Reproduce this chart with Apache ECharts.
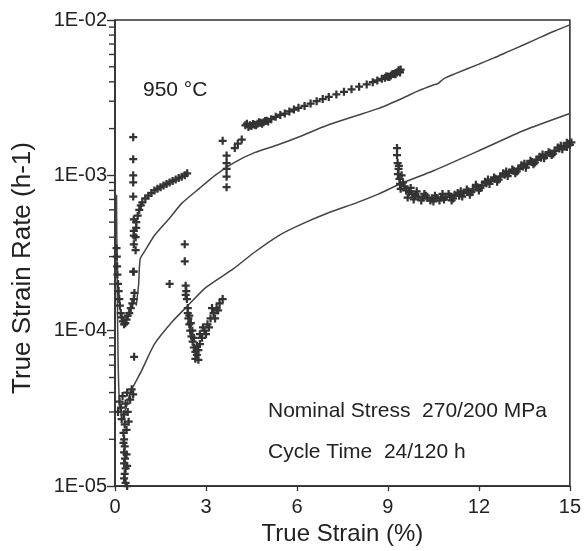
<!DOCTYPE html>
<html>
<head>
<meta charset="utf-8">
<script src="https://cdn.jsdelivr.net/npm/echarts@6/dist/echarts.min.js"></script>
<style>
  html, body { margin: 0; padding: 0; background: #ffffff; }
  #chart { width: 584px; height: 551px; }
</style>
</head>
<body>
<div id="chart"></div>
<script>
// Axis ticks
const strainTicks = [0, 3, 6, 9, 12, 15];
const rateTicks = [1e-5, 1e-4, 1e-3, 1e-2];
const rateTickLabels = ['1E-05', '1E-04', '1E-03', '1E-02'];
const minorRateTicks = [
  2e-5, 3e-5, 4e-5, 5e-5, 6e-5, 7e-5, 8e-5, 9e-5,
  2e-4, 3e-4, 4e-4, 5e-4, 6e-4, 7e-4, 8e-4, 9e-4,
  2e-3, 3e-3, 4e-3, 5e-3, 6e-3, 7e-3, 8e-3, 9e-3
];

// Calculated strain-rate curves: [true strain %, rate 1/h]
const calcUpper = [
  [0.70, 1.45e-4], [0.78, 2.0e-4], [0.83, 2.9e-4], [1.0, 3.3e-4], [1.3, 4.1e-4],
  [1.8, 5.3e-4], [2.2, 6.6e-4], [2.8, 8.3e-4], [3.3, 1.0e-3], [3.9, 1.2e-3],
  [4.6, 1.4e-3], [5.4, 1.58e-3], [6.1, 1.78e-3], [7.0, 2.1e-3], [7.9, 2.4e-3],
  [8.7, 2.7e-3], [9.5, 3.15e-3], [10.0, 3.5e-3], [10.5, 3.82e-3], [10.65, 3.9e-3],
  [10.85, 4.2e-3], [11.2, 4.5e-3], [12.0, 5.2e-3], [12.5, 5.7e-3], [13.0, 6.3e-3],
  [13.5, 6.95e-3], [14.0, 7.7e-3], [14.5, 8.5e-3], [15.0, 9.3e-3]
];
const calcLower = [
  [0.05, 7.5e-4], [0.06, 4.0e-4], [0.08, 1.5e-4], [0.10, 7.0e-5], [0.13, 4.0e-5],
  [0.18, 3.0e-5], [0.30, 3.0e-5], [0.39, 3.3e-5], [0.50, 4.0e-5], [0.66, 4.6e-5],
  [0.89, 5.6e-5], [1.3, 8.2e-5], [1.9, 1.15e-4], [2.4, 1.45e-4], [3.0, 1.9e-4],
  [3.9, 2.5e-4], [4.6, 3.2e-4], [5.4, 4.1e-4], [6.1, 4.8e-4], [7.0, 5.7e-4],
  [8.0, 6.7e-4], [8.7, 7.6e-4], [9.4, 8.8e-4], [10.5, 1.07e-3], [12.0, 1.44e-3],
  [13.5, 1.95e-3], [15.0, 2.5e-3]
];

// Measured strain rates, one array per loading step
const measStep1 = [
  [0.10, 3.0e-5], [0.15, 3.5e-5], [0.20, 3.2e-5], [0.22, 2.7e-5], [0.25, 3.8e-5],
  [0.30, 2.9e-5], [0.32, 2.5e-5], [0.35, 3.4e-5], [0.40, 4.0e-5], [0.42, 3.0e-5],
  [0.45, 2.6e-5], [0.50, 3.6e-5], [0.55, 4.2e-5], [0.60, 3.9e-5], [0.28, 2.2e-5],
  [0.30, 2.0e-5], [0.32, 1.8e-5], [0.30, 1.65e-5], [0.33, 1.5e-5], [0.30, 1.4e-5],
  [0.35, 1.3e-5], [0.32, 1.2e-5], [0.30, 1.12e-5], [0.35, 1.05e-5], [0.40, 1.0e-5],
  [0.38, 1.6e-5], [0.40, 1.35e-5], [0.28, 1.9e-5], [0.38, 2.3e-5]
];
const measStep2 = [
  [0.05, 3.4e-4], [0.06, 3.0e-4], [0.07, 2.6e-4], [0.08, 2.3e-4], [0.10, 2.0e-4],
  [0.12, 1.8e-4], [0.14, 1.6e-4], [0.16, 1.45e-4], [0.19, 1.3e-4], [0.22, 1.22e-4],
  [0.26, 1.15e-4], [0.30, 1.1e-4], [0.34, 1.12e-4], [0.38, 1.18e-4], [0.42, 1.25e-4],
  [0.47, 1.3e-4], [0.52, 1.4e-4], [0.57, 1.5e-4], [0.62, 1.6e-4], [0.64, 1.75e-4],
  [0.60, 2.4e-4], [0.63, 6.8e-5], [1.80, 2.0e-4]
];
const measStep3 = [
  [0.60, 1.76e-3], [0.60, 1.27e-3], [0.60, 1.0e-3], [0.60, 9.0e-4], [0.60, 7.3e-4],
  [0.62, 5.2e-4], [0.62, 4.4e-4], [0.62, 4.1e-4], [0.62, 3.6e-4], [0.62, 2.4e-4],
  [0.68, 4.0e-4], [0.70, 4.6e-4], [0.68, 3.3e-4],
  [0.70, 5.0e-4], [0.75, 5.5e-4], [0.80, 6.0e-4], [0.85, 6.4e-4], [0.90, 6.7e-4],
  [1.0, 7.1e-4], [1.1, 7.4e-4], [1.2, 7.7e-4], [1.3, 8.0e-4], [1.4, 8.2e-4],
  [1.5, 8.4e-4], [1.6, 8.6e-4], [1.7, 8.8e-4], [1.8, 9.0e-4], [1.9, 9.2e-4],
  [2.0, 9.4e-4], [2.1, 9.6e-4], [2.2, 9.8e-4], [2.3, 1.0e-3], [2.38, 1.03e-3]
];
const measStep4 = [
  [2.30, 3.6e-4], [2.30, 2.8e-4], [2.33, 1.95e-4], [2.35, 1.8e-4], [2.33, 1.7e-4],
  [2.37, 1.6e-4], [2.40, 1.3e-4], [2.42, 1.2e-4], [2.45, 1.1e-4], [2.48, 1.0e-4],
  [2.52, 9.2e-5], [2.56, 8.5e-5], [2.60, 7.8e-5], [2.65, 7.3e-5], [2.70, 7.0e-5],
  [2.75, 7.5e-5], [2.80, 8.2e-5], [2.87, 9.0e-5], [2.95, 1.0e-4], [3.05, 1.1e-4],
  [3.15, 1.2e-4], [3.25, 1.3e-4], [3.35, 1.4e-4], [3.45, 1.5e-4], [3.55, 1.6e-4],
  [2.45, 1.25e-4], [2.55, 1.0e-4], [2.60, 9.0e-5], [2.70, 8.0e-5], [2.75, 6.5e-5],
  [2.80, 9.5e-5], [2.90, 1.05e-4], [3.00, 9.5e-5], [3.10, 1.05e-4], [3.20, 1.4e-4],
  [3.30, 1.2e-4], [3.40, 1.35e-4], [2.65, 6.6e-5], [2.50, 1.12e-4], [2.40, 1.4e-4]
];
const measStep5 = [
  [3.55, 1.67e-3], [3.68, 1.34e-3], [3.68, 1.2e-3], [3.68, 1.1e-3], [3.68, 9.8e-4],
  [3.68, 8.4e-4], [3.95, 1.5e-3], [4.05, 1.6e-3], [4.18, 1.7e-3],
  [4.3, 2.1e-3], [4.4, 2.05e-3], [4.5, 2.08e-3], [4.6, 2.12e-3], [4.7, 2.15e-3],
  [4.8, 2.18e-3], [4.9, 2.2e-3], [5.0, 2.25e-3], [5.15, 2.3e-3], [5.3, 2.38e-3],
  [5.45, 2.45e-3], [5.6, 2.5e-3], [5.75, 2.58e-3], [5.9, 2.65e-3], [6.05, 2.72e-3],
  [6.25, 2.8e-3], [6.45, 2.9e-3], [6.65, 3.0e-3], [6.85, 3.1e-3], [7.05, 3.2e-3],
  [7.3, 3.32e-3], [7.55, 3.45e-3], [7.8, 3.58e-3], [8.05, 3.72e-3], [8.3, 3.85e-3],
  [8.5, 3.98e-3], [8.65, 4.08e-3], [8.8, 4.18e-3], [8.9, 4.25e-3], [9.0, 4.32e-3],
  [9.1, 4.4e-3], [9.2, 4.5e-3], [9.3, 4.6e-3], [9.38, 4.7e-3], [9.42, 4.8e-3],
  [4.35, 2.15e-3], [4.45, 2.1e-3], [4.55, 2.14e-3], [4.65, 2.1e-3], [4.75, 2.2e-3],
  [4.85, 2.15e-3], [4.95, 2.24e-3], [5.05, 2.22e-3], [8.95, 4.35e-3], [9.05, 4.3e-3],
  [9.15, 4.5e-3], [9.25, 4.48e-3], [9.35, 4.75e-3], [9.40, 4.6e-3]
];
const measStep6 = [
  [9.30, 1.5e-3], [9.30, 1.35e-3], [9.32, 1.2e-3], [9.35, 1.1e-3], [9.33, 1.02e-3],
  [9.38, 9.5e-4], [9.40, 8.8e-4], [9.42, 8.2e-4], [9.36, 1.15e-3], [9.45, 1.0e-3],
  [9.50, 9.0e-4], [9.55, 8.5e-4], [9.60, 8.0e-4], [9.70, 7.8e-4], [9.80, 7.6e-4],
  [9.90, 7.4e-4], [10.0, 7.3e-4], [10.15, 7.2e-4], [10.3, 7.15e-4], [10.45, 7.1e-4],
  [10.6, 7.15e-4], [10.75, 7.2e-4], [10.9, 7.25e-4], [11.05, 7.3e-4], [11.2, 7.5e-4],
  [11.35, 7.4e-4], [11.5, 7.7e-4], [11.65, 7.9e-4], [11.8, 8.1e-4], [11.95, 8.4e-4],
  [12.1, 8.6e-4], [12.25, 8.9e-4], [12.4, 9.2e-4], [12.55, 9.5e-4], [12.7, 9.8e-4],
  [12.85, 1.01e-3], [13.0, 1.04e-3], [13.15, 1.07e-3], [13.3, 1.1e-3], [13.45, 1.14e-3],
  [13.6, 1.18e-3], [13.75, 1.22e-3], [13.9, 1.26e-3], [14.05, 1.3e-3], [14.2, 1.34e-3],
  [14.35, 1.39e-3], [14.5, 1.44e-3], [14.65, 1.49e-3], [14.8, 1.54e-3], [14.95, 1.6e-3],
  [15.05, 1.63e-3],
  [10.2, 7.6e-4], [10.5, 6.8e-4], [10.8, 7.6e-4], [11.1, 6.9e-4], [11.4, 7.9e-4],
  [11.7, 7.5e-4], [12.0, 8.0e-4], [12.3, 9.4e-4], [12.6, 9.1e-4], [12.9, 1.06e-3],
  [13.2, 1.03e-3], [13.5, 1.19e-3], [13.8, 1.18e-3], [14.1, 1.36e-3], [14.4, 1.35e-3],
  [14.7, 1.55e-3], [14.9, 1.52e-3],
  [9.65, 7.2e-4], [9.75, 8.3e-4], [9.85, 7.0e-4], [9.95, 7.9e-4], [10.1, 6.9e-4],
  [10.25, 7.4e-4], [10.4, 6.9e-4], [10.55, 7.4e-4], [10.7, 6.9e-4], [10.85, 7.0e-4],
  [11.0, 7.6e-4], [11.15, 7.1e-4], [11.3, 7.7e-4], [11.45, 7.3e-4], [11.6, 8.1e-4],
  [11.75, 7.8e-4], [11.9, 8.7e-4], [12.05, 8.3e-4], [12.2, 9.1e-4], [12.35, 8.8e-4],
  [12.5, 9.7e-4], [12.65, 9.4e-4], [12.8, 1.03e-3], [12.95, 9.9e-4], [13.1, 1.09e-3],
  [13.25, 1.06e-3], [13.4, 1.16e-3], [13.55, 1.12e-3], [13.7, 1.24e-3], [13.85, 1.21e-3],
  [14.0, 1.32e-3], [14.15, 1.29e-3], [14.3, 1.41e-3], [14.45, 1.38e-3], [14.6, 1.51e-3],
  [14.75, 1.47e-3], [14.9, 1.62e-3], [15.0, 1.57e-3]
];

const FONT = '"Liberation Sans", Arial, sans-serif';
const INK = '#222222';
const PLUS = 'path://M3.6,0H6.4V3.6H10V6.4H6.4V10H3.6V6.4H0V3.6H3.6Z';

function measSeries(name, data) {
  return {
    name: name,
    type: 'scatter',
    data: data,
    symbol: PLUS,
    symbolSize: 8,
    itemStyle: { color: '#333333', opacity: 1 },
    clip: false,
    z: 3
  };
}
function calcSeries(name, data) {
  return {
    name: name,
    type: 'line',
    data: data,
    showSymbol: false,
    symbol: 'none',
    smooth: 0.2,
    lineStyle: { color: '#444444', width: 1.5 },
    z: 2
  };
}

const chart = echarts.init(document.getElementById('chart'), null, { renderer: 'canvas' });
chart.setOption({
  animation: false,
  backgroundColor: '#ffffff',
  grid: {
    left: 115, right: 14, top: 20, bottom: 57,
    show: true, borderColor: '#333', borderWidth: 1.6, backgroundColor: 'transparent'
  },
  xAxis: {
    type: 'value',
    min: strainTicks[0],
    max: strainTicks[strainTicks.length - 1],
    interval: strainTicks[1] - strainTicks[0],
    name: 'True Strain (%)',
    nameLocation: 'middle',
    nameGap: 35,
    nameTextStyle: { fontFamily: FONT, fontSize: 24, color: INK },
    axisLine: { show: true, lineStyle: { color: '#333', width: 1.6 } },
    axisTick: { show: true, length: 5, lineStyle: { color: '#333', width: 1.3 } },
    axisLabel: { fontFamily: FONT, fontSize: 20, color: INK, margin: 11 },
    splitLine: { show: false }
  },
  yAxis: {
    type: 'log',
    logBase: 10,
    min: rateTicks[0],
    max: rateTicks[rateTicks.length - 1],
    axisLine: { show: true, lineStyle: { color: '#333', width: 1.6 } },
    axisTick: { show: true, length: 8, lineStyle: { color: '#333', width: 1.4 } },
    axisLabel: {
      fontFamily: FONT, fontSize: 20, color: INK, margin: 8,
      formatter: function (v) {
        const i = rateTicks.findIndex(t => Math.abs(Math.log10(t) - Math.log10(v)) < 1e-6);
        return i >= 0 ? rateTickLabels[i] : '';
      }
    },
    splitLine: { show: false }
  },
  graphic: [
    {
      type: 'text', x: 23, y: 268, rotation: Math.PI / 2,
      style: { text: 'True Strain Rate (h-1)', font: '26px ' + FONT, fill: INK, align: 'center', verticalAlign: 'middle' }
    },
    { type: 'text', x: 143, y: 90, style: { text: '950 °C', font: '21px ' + FONT, fill: INK, verticalAlign: 'middle' } },
    { type: 'text', x: 268, y: 411, style: { text: 'Nominal Stress  270/200 MPa', font: '21px ' + FONT, fill: INK, verticalAlign: 'middle' } },
    { type: 'text', x: 268, y: 452, style: { text: 'Cycle Time  24/120 h', font: '21px ' + FONT, fill: INK, verticalAlign: 'middle' } }
  ],
  series: [
    // short ticks at 2..9 of each decade on the rate axis
    {
      name: 'minorTicks',
      type: 'custom',
      coordinateSystem: 'cartesian2d',
      data: minorRateTicks.map(v => [strainTicks[0], v]),
      encode: { x: 0, y: 1 },
      clip: false,
      silent: true,
      renderItem: function (params, api) {
        const p = api.coord([api.value(0), api.value(1)]);
        return {
          type: 'line',
          shape: { x1: p[0] - 6, y1: p[1], x2: p[0], y2: p[1] },
          style: { stroke: '#333333', lineWidth: 1.4 }
        };
      },
      z: 5
    },
    calcSeries('calcUpper', calcUpper),
    calcSeries('calcLower', calcLower),
    measSeries('step1', measStep1),
    measSeries('step2', measStep2),
    measSeries('step3', measStep3),
    measSeries('step4', measStep4),
    measSeries('step5', measStep5),
    measSeries('step6', measStep6)
  ]
});
</script>
</body>
</html>
